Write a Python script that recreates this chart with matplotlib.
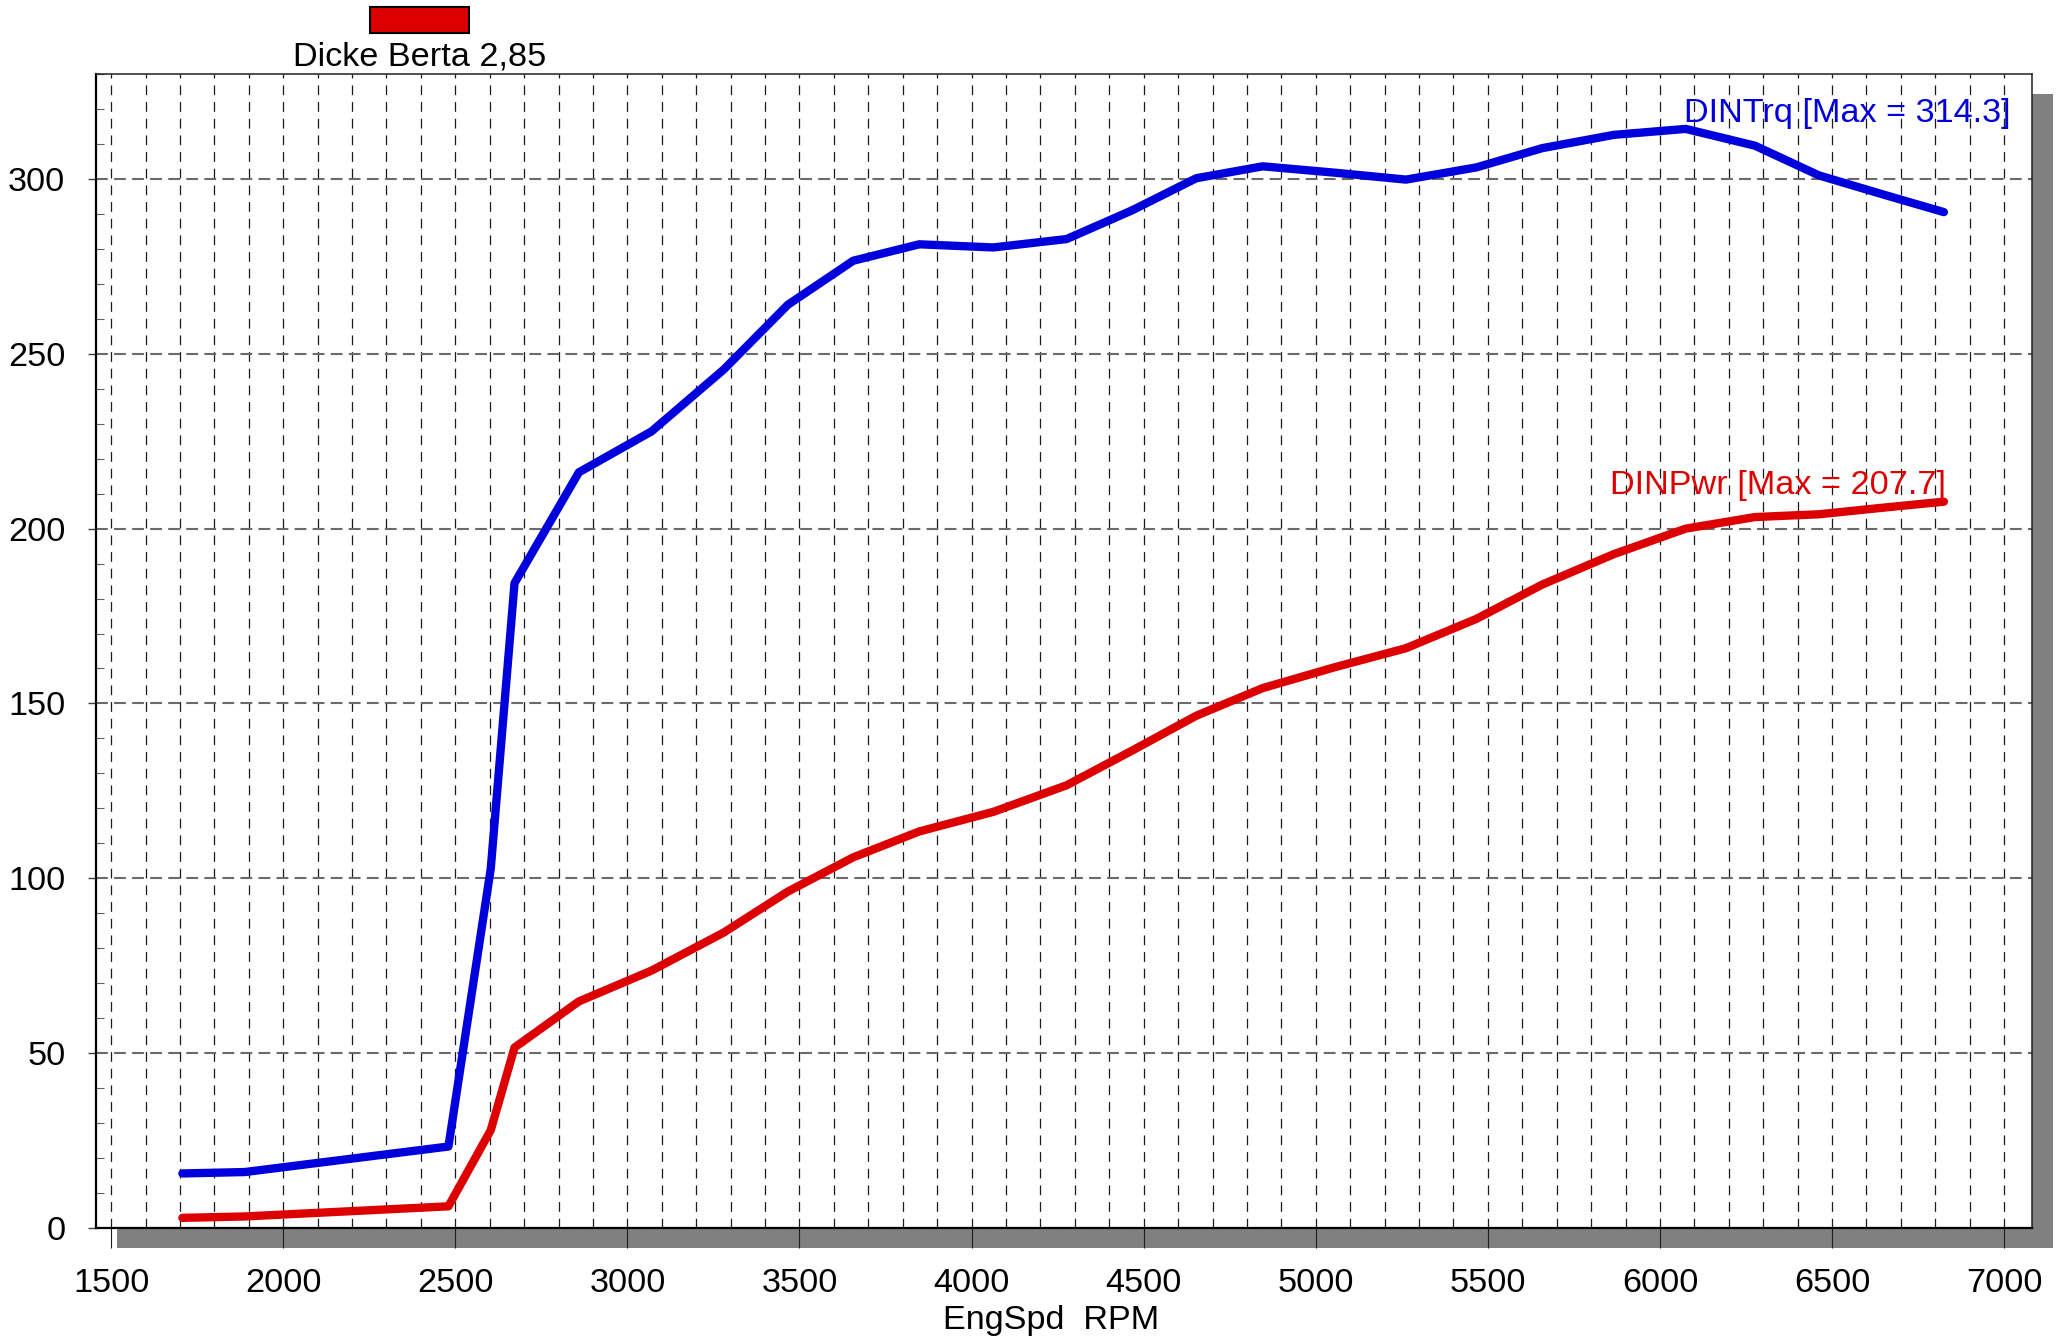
import matplotlib
matplotlib.use("Agg")
import matplotlib.pyplot as plt
from matplotlib.patches import Rectangle
from matplotlib.ticker import MultipleLocator

plt.rcParams['font.family'] = ['Liberation Sans', 'DejaVu Sans']
plt.rcParams['lines.scale_dashes'] = False

# dyno run
rpm = [1707, 1888, 2480, 2603, 2672, 2859, 3070, 3280, 3466, 3656, 3848, 4063, 4276,
       4466, 4653, 4846, 5053, 5262, 5467, 5658, 5866, 6075, 6276, 6462, 6650, 6825]
torque = [15.6, 16.0, 23.3, 102.8, 184.4, 216.1, 227.8, 245.5, 264.0, 276.6, 281.3, 280.4, 282.8,
          291.0, 300.2, 303.6, 301.8, 299.8, 303.3, 308.8, 312.6, 314.3, 309.5, 301.0, 295.5, 290.5]
power = [2.9, 3.3, 6.2, 28.0, 51.6, 64.8, 73.6, 84.5, 96.2, 106.0, 113.4, 119.0, 126.6,
         136.5, 146.5, 154.4, 160.3, 165.8, 174.2, 184.0, 192.7, 200.0, 203.3, 204.1, 206.0, 207.7]

run_name = "Dicke Berta 2,85"
trq_label = "DINTrq [Max = 314.3]"
pwr_label = "DINPwr [Max = 207.7]"
x_label = "EngSpd  RPM"

BLUE = "#0000DC"
RED = "#DC0000"
FS = 24.7

W, H = 2062, 1336
fig = plt.figure(figsize=(W / 100, H / 100), dpi=100)

# axes box in pixels: left 96, right 2032, top 74, bottom 1228
L, R, T, B = 96, 2032, 74, 1228
ax = fig.add_axes([L / W, (H - B) / H, (R - L) / W, (B - T) / H])
ax.set_zorder(1)

# drop shadow behind the plot area
fig.patches.append(Rectangle(((L + 21) / W, (H - B - 20) / H), (R - L) / W, (B - T) / H,
                             transform=fig.transFigure, facecolor="#808080",
                             edgecolor="none", zorder=-1))

ax.plot(rpm, torque, color=BLUE, lw=6, solid_capstyle="round", solid_joinstyle="round", zorder=3)
ax.plot(rpm, power, color=RED, lw=6, solid_capstyle="round", solid_joinstyle="round", zorder=3)

ax.text(7018, 316.3, trq_label, color=BLUE, fontsize=FS, ha="right", va="baseline", zorder=4)
ax.text(6831, 209.9, pwr_label, color=RED, fontsize=FS, ha="right", va="baseline", zorder=4)

ax.set_xlim(1456, 7081)
ax.set_ylim(0, 330)

ax.xaxis.set_major_locator(MultipleLocator(500))
ax.xaxis.set_minor_locator(MultipleLocator(100))
ax.yaxis.set_major_locator(MultipleLocator(50))
ax.yaxis.set_minor_locator(MultipleLocator(10))

ax.grid(which="both", axis="x", color="#1a1a1a", lw=0.9, linestyle=(0, (7, 5)))
ax.grid(which="major", axis="y", color="#6a6a6a", lw=1.5, linestyle=(0, (8.5, 4.5)))
ax.set_axisbelow(True)

ax.tick_params(axis="x", which="major", direction="out", length=14.5, width=0.8,
               color="#202020", pad=14, labelsize=FS)
ax.tick_params(axis="x", which="minor", length=0)
ax.tick_params(axis="y", which="major", direction="out", length=6, width=1.0,
               color="#404040", pad=16, labelsize=FS)
ax.tick_params(axis="y", which="minor", direction="in", length=6, width=0.8, color="#606060")

for side in ("left", "bottom"):
    ax.spines[side].set_linewidth(1.6)
    ax.spines[side].set_color("black")
for side in ("top", "right"):
    ax.spines[side].set_linewidth(1.1)
    ax.spines[side].set_color("#202020")

# run legend on top
fig.patches.append(Rectangle((370 / W, (H - 33) / H), 99 / W, 26 / H, transform=fig.transFigure,
                             facecolor=RED, edgecolor="black", lw=1.5))
fig.text(420 / W, 1 - 65 / H, run_name, fontsize=FS, ha="center", va="baseline")

fig.text(1051 / W, 1 - 1329 / H, x_label, fontsize=FS, ha="center", va="baseline")

fig.savefig("out.png", dpi=100)
